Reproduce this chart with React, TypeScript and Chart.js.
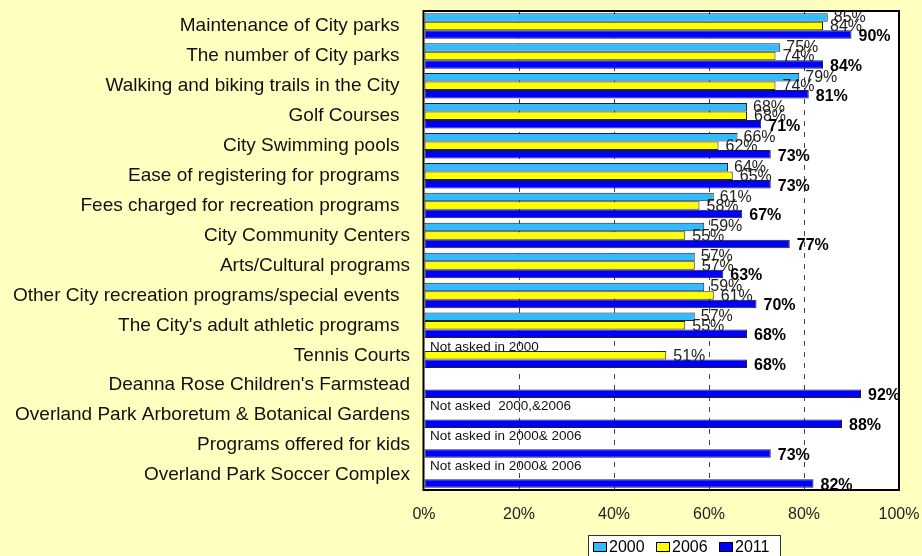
import React, { useEffect, useRef } from 'react';
import { Chart, registerables } from 'chart.js';

Chart.register(...registerables);

const categories = [
  'Maintenance of City parks  ',
  'The number of City parks  ',
  'Walking and biking trails in the City  ',
  'Golf Courses  ',
  'City Swimming pools  ',
  'Ease of registering for programs  ',
  'Fees charged for recreation programs  ',
  'City Community Centers',
  'Arts/Cultural programs',
  'Other City recreation programs/special events  ',
  "The City's adult athletic programs  ",
  'Tennis Courts',
  "Deanna Rose Children's Farmstead",
  'Overland Park Arboretum & Botanical Gardens',
  'Programs offered for kids',
  'Overland Park Soccer Complex',
];

const years = ['2000', '2006', '2011'];
const values2000 = [85, 75, 79, 68, 66, 64, 61, 59, 57, 59, 57, null, null, null, null, null];
const values2006 = [84, 74, 74, 68, 62, 65, 58, 55, 57, 61, 55, 51, null, null, null, null];
const values2011 = [90, 84, 81, 71, 73, 73, 67, 77, 63, 70, 68, 68, 92, 88, 73, 82];
const xTickValues = [0, 20, 40, 60, 80, 100];

const noteIndices = [11, 13, 14, 15];
const noteTexts = [
  'Not asked in 2000',
  'Not asked  2000,&2006',
  'Not asked in 2000& 2006',
  'Not asked in 2000& 2006',
];

const FAMILY = '"Liberation Sans", Arial, Helvetica, sans-serif';
const colors = ['#33BBFF', '#FFFF00', '#0000FF'];

const framePlugin = {
  id: 'frame',
  beforeDraw(chart: any) {
    const { ctx, chartArea: a } = chart;
    ctx.save();
    ctx.fillStyle = '#FFFFFF';
    ctx.fillRect(a.left, a.top, a.right - a.left, a.bottom - a.top);
    ctx.restore();
  },
  beforeDatasetsDraw(chart: any) {
    const { ctx, chartArea: a } = chart;
    ctx.save();
    ctx.strokeStyle = '#000000';
    ctx.lineWidth = 2;
    ctx.strokeRect(a.left - 0.5, a.top, a.right - a.left + 0.5, a.bottom - a.top);
    ctx.restore();
  },
};

const labelPlugin = {
  id: 'barLabels',
  afterDatasetsDraw(chart: any) {
    const { ctx } = chart;
    ctx.save();
    ctx.textAlign = 'left';
    ctx.textBaseline = 'middle';
    const dy = [0, 1, 2];
    chart.data.datasets.forEach((ds: any, i: number) => {
      const meta = chart.getDatasetMeta(i);
      ctx.font = (i === 2 ? 'bold ' : '') + '16px ' + FAMILY;
      ctx.fillStyle = i === 2 ? '#000000' : '#222222';
      meta.data.forEach((bar: any, j: number) => {
        const v = ds.data[j];
        if (v === null || v === undefined) return;
        const p = bar.getProps(['x', 'y'], true);
        ctx.fillText(v + '%', p.x + (i === 0 ? 6 : 7), p.y + dy[i]);
      });
    });
    // notes
    const meta2 = chart.getDatasetMeta(2);
    ctx.font = '13.5px ' + FAMILY;
    ctx.fillStyle = '#111111';
    noteIndices.forEach((idx, k) => {
      const bar = meta2.data[idx];
      const p = bar.getProps(['y', 'height'], true);
      const y = p.y - 2 * p.height;
      ctx.fillText(noteTexts[k], chart.chartArea.left + 6, y);
    });
    ctx.restore();
  },
};

const legendPlugin = {
  id: 'boxLegend',
  afterDraw(chart: any) {
    const { ctx } = chart;
    ctx.save();
    const left = 588;
    const top = 535;
    ctx.fillStyle = '#FFFFFF';
    ctx.fillRect(left, top, 192, 30);
    ctx.strokeStyle = '#333333';
    ctx.lineWidth = 1;
    ctx.strokeRect(left + 0.5, top + 0.5, 192, 30);
    ctx.font = '16px ' + FAMILY;
    ctx.textBaseline = 'middle';
    ctx.textAlign = 'left';
    chart.data.datasets.forEach((ds: any, i: number) => {
      const x0 = left + 5 + i * 63;
      ctx.fillStyle = ds.backgroundColor;
      ctx.fillRect(x0, top + 7, 14, 10);
      ctx.strokeStyle = '#000000';
      ctx.strokeRect(x0 + 0.5, top + 7.5, 13, 9);
      ctx.fillStyle = '#000000';
      ctx.fillText(ds.label, x0 + 16, top + 13);
    });
    ctx.restore();
  },
};

const zeroPad = (s: any) => {
  s.paddingTop = 0;
  s.paddingBottom = 0;
  s.paddingLeft = 0;
  s.paddingRight = 0;
};

export default function App() {
  const canvasRef = useRef<HTMLCanvasElement | null>(null);

  useEffect(() => {
    document.body.style.margin = '0';
    const canvas = canvasRef.current;
    if (!canvas) return;
    const seriesValues = [values2000, values2006, values2011];
    const chart = new Chart(canvas, {
      type: 'bar',
      data: {
        labels: categories,
        datasets: years.map((y, i) => ({
          label: y,
          data: seriesValues[i],
          backgroundColor: colors[i],
          borderColor: '#222222',
          borderWidth: 1,
          borderSkipped: false,
          barPercentage: 1,
          categoryPercentage: 0.85,
        })),
      },
      options: {
        indexAxis: 'y',
        animation: false,
        responsive: true,
        maintainAspectRatio: false,
        layout: { padding: { top: 11, right: 23, left: 0, bottom: 0 } },
        plugins: {
          legend: { display: false },
          tooltip: { enabled: false },
        },
        scales: {
          x: {
            type: 'linear',
            position: 'bottom',
            min: 0,
            max: 100,
            afterBuildTicks: (s: any) => {
              s.ticks = xTickValues.map((v) => ({ value: v }));
            },
            ticks: {
              callback: (v: any) => v + '%',
              color: '#222222',
              font: { size: 16, family: FAMILY },
              padding: 15,
              maxRotation: 0,
              autoSkip: false,
            },
            grid: {
              color: (c: any) =>
                c.tick && (c.tick.value === 0 || c.tick.value === 100) ? 'rgba(0,0,0,0)' : '#444444',
              lineWidth: 1,
              drawTicks: false,
            },
            border: { display: false, dash: [5, 6] },
            afterFit: (s: any) => {
              s.height = 66;
              zeroPad(s);
            },
          },
          y: {
            type: 'category',
            ticks: {
              color: '#111111',
              font: { size: 19, family: FAMILY },
              padding: 14,
              autoSkip: false,
            },
            grid: { display: false, drawTicks: false },
            border: { display: false },
            afterFit: (s: any) => {
              s.width = 424;
              zeroPad(s);
            },
          },
        },
      } as any,
      plugins: [framePlugin, labelPlugin, legendPlugin],
    });
    return () => chart.destroy();
  }, []);

  return (
    <div style={{ width: 922, height: 556, background: '#FFFFC0', position: 'relative' }}>
      <canvas ref={canvasRef} />
    </div>
  );
}
